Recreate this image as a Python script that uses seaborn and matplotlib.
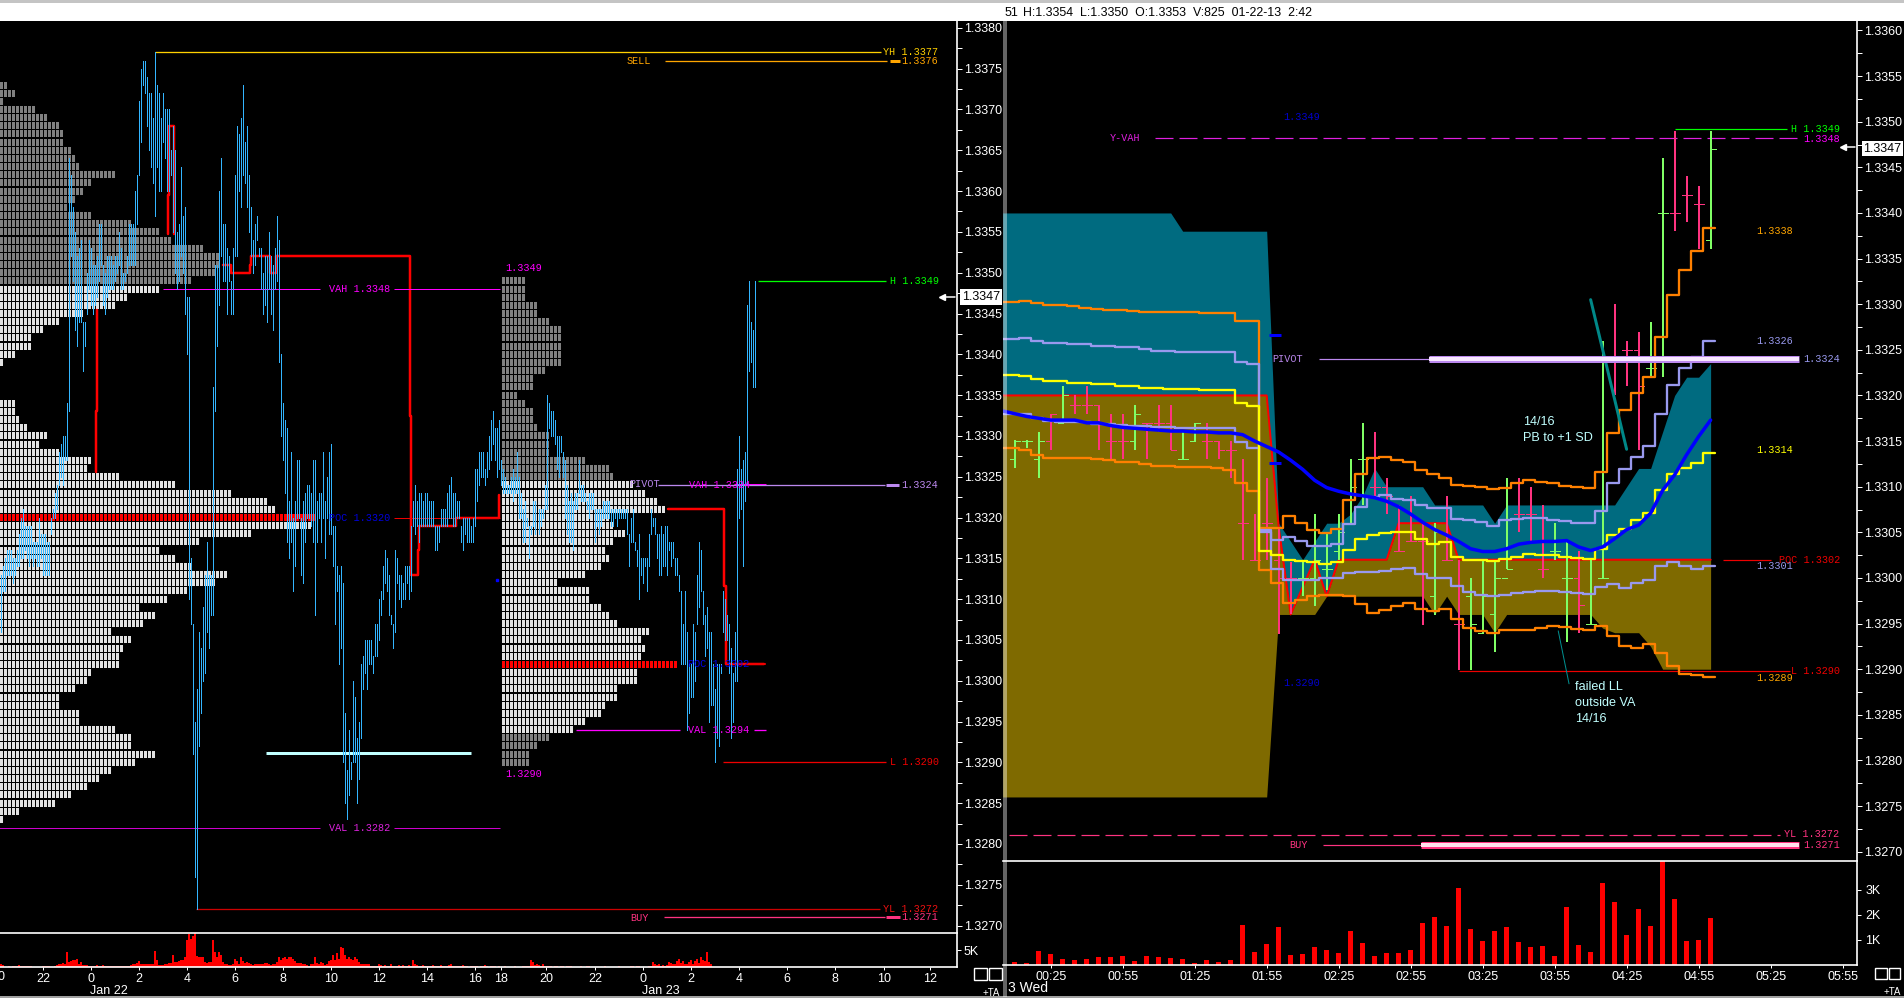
import numpy as np
import matplotlib
matplotlib.use("Agg")
import matplotlib.pyplot as plt
from matplotlib.patches import Rectangle
import seaborn as sns

W, H = 1904, 998

# left chart: 5 minute bars, prices as pips above 1.3
left_high = [3313,3314,3315,3316,3316,3316,3315,3315,3316,3318,3320,3321,3319,3319,3319,3319,3317,3317,3317,3320,3318,3318,3318,3317,3317,3320,3321,3323,3324,3328,3329,3330,3330,3334,
 3364,3362,3358,3355,3352,3353,3354,3344,3344,3350,3354,3353,3351,3351,3352,3356,3356,3351,3350,3352,3352,3352,3351,3352,3352,3355,3353,3350,3350,3352,3356,3356,3356,3360,3362,
 3371,3375,3376,3376,3374,3372,3372,3369,3377,3373,3372,3369,3372,3370,3370,3370,3365,3368,3365,3355,3356,3363,3357,3358,3347,3347,3315,3307,3295,3299,3306,3304,3309,3313,3317,3313,3313,3336,
 3351,3351,3360,3364,3356,3356,3353,3352,3349,3353,3362,3368,3367,3369,3373,3366,3368,3362,3358,3354,3356,3357,3353,3353,3350,3352,3352,3355,3352,3351,3353,3357,3354,3340,3334,3332,3331,3322,3328,3320,3322,3327,3327,3320,3322,3323,3324,3324,3323,3327,3327,3322,3323,3323,3328,3322,3325,3328,3329,3319,3319,3314,3313,3314,3312,
 3296,3289,3294,3290,3300,3298,3293,3295,3302,3303,3305,3305,3305,3305,3303,3307,3307,3310,3311,3314,3316,3315,3313,3308,3307,3316,3315,3313,3313,3312,3314,3314,3314,3319,
 3322,3324,3322,3323,3323,3322,3323,3323,3322,3322,3322,3319,3319,3319,3321,3321,3321,3323,3324,3325,3323,3323,3322,3322,3319,3320,3320,3320,3320,3319,3320,3326,3326,3328,3328,3328,3326,3328,3330,3332,3333,3331,3331,3332,
 3327,3326,3325,3324,3324,3325,3326,3325,3328,3325,3323,3321,3322,3320,3319,3319,3322,3322,3320,3321,3321,3321,3324,3335,3334,3333,3333,3332,3330,3330,3330,3328,3327,3324,3322,3323,3322,3323,3323,3327,3324,3324,3323,3322,3323,3323,3323,3321,3321,3321,3321,3322,3322,3322,3322,3321,3321,3321,3321,3321,3321,3321,3321,3321,
 3318,3320,3321,3317,3316,3318,3315,3315,3315,3315,3318,3321,3320,3320,3318,3318,3319,3318,3319,3319,3317,3317,3317,3315,3315,3313,3311,3307,3311,3306,3302,3302,3307,3306,3313,3317,3316,3311,3308,3309,3306,3306,3302,3299,3302,3302,3302,3311,3310,3308,3307,3304,3301,3306,3326,3330,3326,3327,3328,3346,3349,3344,3343,3349]
left_low = [3306,3311,3311,3313,3313,3313,3312,3313,3314,3314,3315,3315,3316,3315,3314,3315,3314,3315,3314,3314,3315,3313,3313,3313,3313,3318,3320,3320,3321,3324,3325,3324,3327,3327,
 3333,3352,3349,3343,3341,3344,3344,3338,3341,3345,3348,3346,3345,3346,3347,3349,3351,3346,3345,3347,3348,3348,3348,3349,3350,3351,3348,3348,3349,3350,3351,3351,3351,3351,3356,
 3362,3366,3373,3372,3368,3365,3363,3361,3357,3363,3360,3360,3366,3364,3360,3360,3362,3355,3350,3348,3349,3352,3350,3345,3340,3310,3307,3291,3276,3272,3292,3296,3300,3301,3306,3304,3308,3308,
 3333,3341,3346,3352,3349,3349,3345,3349,3345,3345,3352,3352,3360,3358,3362,3361,3358,3355,3352,3350,3351,3354,3352,3348,3345,3346,3344,3348,3345,3343,3348,3349,3339,3330,3327,3323,3317,3315,3317,3311,3314,3320,3320,3313,3312,3317,3320,3320,3319,3317,3308,3317,3320,3317,3320,3315,3320,3318,3318,3314,3307,3311,3302,3304,3290,
 3285,3283,3286,3288,3290,3290,3285,3288,3293,3299,3301,3299,3302,3302,3301,3303,3303,3305,3308,3310,3312,3311,3308,3307,3304,3306,3312,3310,3309,3310,3310,3312,3310,3311,
 3319,3318,3319,3317,3319,3319,3319,3319,3319,3319,3319,3316,3316,3317,3319,3319,3319,3319,3320,3320,3319,3319,3320,3320,3317,3316,3318,3317,3317,3317,3317,3319,3322,3324,3325,3325,3324,3325,3326,3327,3329,3327,3325,3326,
 3324,3323,3323,3323,3323,3323,3322,3323,3323,3320,3320,3317,3317,3319,3315,3318,3319,3318,3320,3318,3319,3320,3321,3321,3331,3330,3330,3329,3326,3325,3328,3325,3320,3318,3317,3317,3316,3321,3321,3323,3322,3322,3322,3321,3320,3321,3321,3317,3319,3318,3319,3320,3320,3320,3320,3319,3319,3320,3319,3320,3320,3320,3320,3318,
 3314,3317,3317,3316,3314,3310,3313,3312,3314,3311,3314,3318,3319,3318,3315,3313,3313,3314,3314,3313,3316,3314,3315,3313,3313,3311,3302,3302,3302,3294,3296,3298,3298,3300,3307,3309,3311,3307,3303,3304,3295,3297,3297,3290,3293,3292,3301,3306,3305,3305,3301,3293,3295,3300,3300,3320,3321,3314,3322,3324,3338,3339,3336,3336]
left_vol = [8,5,0,1,2,1,3,3,2,6,3,3,3,4,3,3,1,1,1,1,1,2,2,2,2,1,1,3,5,8,10,12,10,45,15,18,20,22,25,10,15,5,6,5,4,3,2,3,5,3,3,5,2,2,2,2,2,2,2,2,2,2,2,3,4,5,8,10,12,18,8,8,8,8,8,8,10,48,22,5,5,6,8,10,12,12,35,15,15,18,22,22,28,80,98,82,90,99,32,30,30,30,15,12,15,15,80,45,30,45,35,15,10,8,5,6,8,25,18,10,28,18,12,15,12,8,5,8,8,10,10,10,12,12,8,5,8,10,15,28,22,26,28,25,28,30,25,18,12,12,12,8,8,5,3,8,10,30,12,10,15,12,5,10,18,22,35,20,40,25,60,55,35,25,28,25,22,28,25,15,10,8,8,8,8,3,3,3,3,10,5,3,6,4,3,8,
 3,4,2,5,3,6,2,3,5,2,22,8,5,4,3,6,3,2,4,3,5,2,2,3,6,4,2,3,5,8,3,2,4,3,2,5,3,2,1,3,2,4,2,1,3,2,5,3,1,4,2,3,1,2,1,
 1,2,1,0,1,1,2,1,1,0,2,4,3,2,20,14,6,8,5,3,8,4,3,2,2,1,3,2,1,2,3,1,2,2,3,1,1,0,1,2,1,0,2,3,1,1,0,1,1,0,0,2,1,0,1,0,1,1,2,0,1,1,0,1,2,2,1,2,2,1,1,1,1,2,3,15,10,6,8,4,5,3,6,15,12,8,10,18,25,12,18,10,8,14,20,10,18,24,12,30,20,18,45,15,10]

# market profile counts per 0.0001 row, top row first
profile1_top = 3373
profile1_counts = [2,4,1,9,12,15,16,16,18,19,20,29,23,21,19,17,23,33,40,43,51,55,55,54,48,
 40,32,29,21,15,11,8,8,4,1,0,0,0,0,4,4,5,7,12,10,15,23,22,30,44,58,67,69,79,
 78,63,50,40,44,48,57,54,47,42,35,39,36,28,33,31,30,30,23,22,19,15,15,20,20,29,33,33,39,34,28,25,22,18,14,5,1]
profile1_poc = 3320
profile1_gray = (3349, 3373)
profile2_top = 3349
profile2_counts = [6,6,6,9,9,12,15,15,15,15,15,11,8,8,4,6,8,8,9,12,12,12,21,27,28,
 33,36,39,41,27,28,31,28,26,27,25,21,14,22,22,25,27,29,37,35,36,35,44,34,34,29,29,26,25,21,18,12,9,7,7]
profile2_poc = 3302
profile2_val = 3294
profile2_vah = 3325

# developing POC of the left chart, bar number and pips
poc_a_x = [47.5, 47.5, 48, 48]
poc_a_y = [3325.6, 3333, 3333, 3345.4]
poc_b_x = [83.3, 83.3, 84.2, 84.2, 86.7, 86.7]
poc_b_y = [3354.8, 3359.5, 3359.5, 3368, 3368, 3354.8]
poc_c_x = [110.8, 115, 115, 124.3, 124.3, 125, 125, 134.7, 134.7, 137.5, 137.5, 204.3, 204.3, 205, 205, 208.3, 208.3, 209, 209, 227.5, 227.5, 249, 249]
poc_c_y = [3351, 3351, 3350, 3350, 3351, 3351, 3352, 3352, 3350, 3350, 3352, 3352, 3332.5, 3332.5, 3313, 3313, 3316, 3316, 3319, 3319, 3320, 3320, 3322.8]
poc_d_x = [333.4, 361.7, 361.7, 362.4, 362.4, 381.6]
poc_d_y = [3321, 3321, 3311.6, 3311.6, 3302, 3302]

left_ticks = [21,45,69,93,117,141,165,189,213,237,250,272.5,297,321,345,369,393,417,441.5,464.5]
left_tick_labels = ["22","0","2","4","6","8","10","12","14","16","18","20","22","0","2","4","6","8","10","12"]

# right chart: first entry of the fills and step lines sits one bar before 00:10
fill_top = [3340]*15 + [3338]*8 + [3306,3304,3302,3304,3306,3306,3307,3309,3312,3310,3310,3310,3310,3308,3308,3308,3308,3308,3306,3308,3308,3308,3308,3308,3308,3308,3308,3308,3308,3310,3312,3312,3316,3320,3322,3322,3323.5]
fill_mid = [3320]*23 + [3305.6,3296,3299,3302,3298,3302,3302,3302,3302,3302,3306,3306,3306,3306,3306,3302] + [3302]*21
fill_bot = [3276]*23 + [3296]*4 + [3298]*9 + [3296,3298,3296,3296,3296,3294] + [3296]*8 + [3294.5,3294,3294,3294,3292.5,3290,3290,3290,3290,3290]

orange_up = [3330.2,3330.2,3330.3,3330.1,3329.9,3329.9,3329.8,3329.6,3329.5,3329.4,3329.4,3329.3,3329.2,3329.2,3329.1,3329.1,3329.1,3329,3329,3329,3328.2,3328.2,3305.5,3305.5,3306.8,3306,3305.3,3304.9,3305.4,3308.5,3311.4,3313.1,3313.3,3312.9,3312.7,3311.8,3311.4,3311,3310.2,3310.1,3310,3309.7,3309.9,3310.4,3310.7,3310.5,3310.4,3310.1,3310,3309.9,3311.6,3315.9,3318.4,3320.3,3322,3326.4,3331,3333.7,3335.8,3338.4]
lav_up = [3326.2,3326.2,3326.3,3326,3325.8,3325.8,3325.6,3325.6,3325.4,3325.4,3325.3,3325.3,3325.1,3324.9,3324.9,3324.8,3324.8,3324.8,3324.8,3324.8,3323.7,3323.4,3305,3304.2,3304.5,3304,3303.5,3303.5,3303.7,3305.9,3307.8,3308.9,3309.1,3308.7,3308.5,3308,3307.7,3307.7,3306.5,3306.3,3306.1,3305.7,3306.3,3306.5,3306.6,3306.6,3306.4,3306.2,3306,3306,3307.3,3310.4,3311.9,3313.3,3314.5,3318,3321.2,3323,3324.2,3326]
yellow_up = [3322.2,3322.2,3322.1,3321.8,3321.6,3321.6,3321.4,3321.4,3321.3,3321.3,3321,3321,3320.8,3320.8,3320.7,3320.7,3320.7,3320.6,3320.6,3320.6,3319.2,3318.8,3303,3302.5,3302,3301.9,3301.7,3301.5,3301.8,3303.1,3304.3,3304.7,3304.9,3305,3305,3304.3,3303.7,3303.9,3302.3,3302,3302,3301.9,3302.1,3302.3,3302.6,3302.5,3302.5,3302.3,3302.2,3302.1,3303.2,3304.7,3305.4,3306.4,3307.1,3309.6,3311.4,3312,3312.6,3313.7]
lav_low = [3318,3318,3318,3317.5,3317.2,3317.1,3317.1,3317.1,3316.9,3316.9,3316.8,3316.7,3316.6,3316.5,3316.5,3316.4,3316.4,3316.4,3316.4,3316.4,3314.9,3314.2,3305.3,3301,3299.8,3299.8,3299.8,3300,3300,3300.5,3300.6,3300.6,3300.8,3301,3301.1,3300.4,3300,3300,3299.1,3298.5,3298.1,3298,3298.1,3298.4,3298.5,3298.6,3298.6,3298.5,3298.4,3298.2,3299,3299.3,3298.9,3299.4,3299.8,3301.3,3301.7,3301.3,3301,3301.3]
orange_low = [3314.2,3314.2,3314,3313.5,3313.2,3313.2,3313.2,3313.2,3313,3312.9,3312.7,3312.7,3312.5,3312.3,3312.3,3312.2,3312.2,3312.2,3312,3311.8,3310.4,3309.5,3300.9,3299.5,3297.3,3297.6,3298,3298.1,3298.1,3298,3297.1,3296.2,3296.5,3296.9,3297.3,3296.6,3296.4,3296.6,3295.5,3294.5,3294.2,3294,3294.3,3294.3,3294.3,3294.5,3294.7,3294.6,3294.4,3294.3,3294.7,3293.6,3292.5,3292.3,3292.8,3291.8,3290.4,3289.5,3289.4,3289.1]
vwap = [3318.3,3318,3317.7,3317.5,3317.3,3317.3,3317.3,3317,3317,3316.7,3316.5,3316.4,3316.3,3316.2,3316.1,3316.1,3316,3316,3315.9,3315.9,3315.7,3315,3314.4,3313.8,3312.9,3311.9,3310.7,3309.9,3309.5,3309.2,3309,3308.8,3308.4,3307.8,3307,3306.1,3305.3,3304.7,3304,3303.2,3302.9,3302.9,3303.2,3303.7,3303.9,3304,3304,3304.1,3303.4,3303,3303.4,3304.3,3305.3,3305.8,3307.1,3309.6,3311.3,3313.5,3315.5,3317.3]

# right chart price bars from 00:10 on, 5 minutes each
bar_up = [1,1,1,0,1,0,0,0,0,0,1,0,0,0,1,1,0,0,0,0,0,0,0,0,1,1,1,1,1,1,0,0,0,0,0,1,0,0,1,1,1,1,0,0,0,1,1,0,1,1,0,0,0,1,1,0,0,0,1]
bar_high = [3315.1,3315.1,3316,3318,3321,3320,3321,3319,3318,3318,3319,3317,3319,3319,3316,3317,3317,3315,3315,3313,3307,3311,3305.5,3301.8,3301.8,3307,3304.9,3307,3313,3317,3316,3311,3308,3309,3306,3306,3309,3302,3300,3302,3302,3311,3311,3310,3308,3306,3304,3303,3302,3326,3330,3326,3327,3328,3346,3349,3344,3343,3349]
bar_low = [3312,3314.2,3311,3314,3317,3318,3318,3314,3313,3313,3314,3313,3316,3314,3313,3315,3313,3313,3311,3302,3302,3302,3293.9,3296,3298,3296.9,3298.7,3302,3306,3308,3309,3307,3303,3304,3294.8,3295.9,3302,3289.9,3289.9,3293.9,3291.9,3301,3305,3304,3300,3302,3293,3294,3295,3300,3320,3321,3314,3322,3322,3338,3339,3336,3336]
bar_open = [3313,3315,3313,3315,3317,3319,3319,3319,3315,3315,3315,3317,3317,3317,3313,3315,3315,3315,3314,3306,3302,3306,3302,3300,3300,3300,3301,3303,3306,3313,3310,3310,3303,3304,3304,3298,3302,3295,3298,3294,3296,3300,3307,3307,3301,3303,3300,3300,3295,3300,3324,3325,3325,3323,3340,3340,3342,3341,3337]
bar_close = [3315,3315,3315,3318,3320,3319,3319,3317,3315,3315,3318,3317,3317,3314,3313,3317,3315,3314,3314,3306,3302,3306,3300,3300,3300,3302,3301,3305,3310,3313,3310,3309,3303,3304,3304,3305,3302,3295,3295,3298,3300,3301,3307,3307,3301,3303,3300,3297,3295,3300,3324,3325,3321,3323,3340,3340,3342,3341,3347]

right_vol = [0.1,0.08,0.56,0.44,0.24,0.2,0.24,0.32,0.32,0.36,0.16,0.36,0.32,0.28,0.24,0.08,0.2,0.12,0.2,1.6,0.52,0.84,1.52,0.4,0.44,0.72,0.6,0.48,1.36,0.88,0.36,0.48,0.48,0.6,1.68,1.92,1.56,3.08,1.44,0.96,1.36,1.52,0.92,0.72,0.76,0.36,2.32,0.8,0.52,3.28,2.52,1.2,2.24,1.56,4.16,2.64,0.96,1.0,1.88]
right_tick_labels = ["00:25","00:55","01:25","01:55","02:25","02:55","03:25","03:55","04:25","04:55","05:25","05:55"]

TEAL = "#006B80"
OLIVE = "#7F6A00"
ORANGE = "#FF8000"
LAV = "#9999EE"
PURPLE = "#BB88EE"
PINK = "#FF3380"
GREEN = "#80FF66"
CYAN = "#C0FFFF"
BLUE_BAR = "#33B5FF"
MAG = "#FF00FF"
PX = 0.72  # one pixel in points at dpi 100


def pr(pips):
    return 1 + np.asarray(pips, dtype=float) / 10000


sns.set_theme(style="dark", rc={"axes.grid": False})
plt.rcParams["font.family"] = ["Liberation Sans", "DejaVu Sans"]

fig = plt.figure(figsize=(W / 100, H / 100), dpi=100, facecolor="white")


def box(x0, y0, x1, y1):
    return [x0 / W, 1 - y1 / H, (x1 - x0) / W, (y1 - y0) / H]


def fig_rect(x0, y0, x1, y1, **kw):
    fig.add_artist(Rectangle((x0 / W, 1 - y1 / H), (x1 - x0) / W, (y1 - y0) / H, transform=fig.transFigure, **kw))


def fig_text(x, y, s, **kw):
    kw.setdefault("color", "white")
    kw.setdefault("va", "center")
    kw.setdefault("fontsize", 9)
    fig.text(x / W, 1 - y / H, s, **kw)


def mono(ax, x, pips, s, color, **kw):
    ax.text(x, pr(pips), s, color=color, family=["Liberation Mono", "DejaVu Sans Mono"], fontsize=7.3, va="center", ha="left", clip_on=False, zorder=9, **kw)


def hline(ax, pips, x0, x1, color, px=1, **kw):
    ax.plot([x0, x1], [pr(pips), pr(pips)], color=color, lw=px * PX, solid_capstyle="butt", **kw)


def line(ax, xs, pips, color, px=2, **kw):
    sns.lineplot(x=xs, y=pr(pips), color=color, lw=px * PX, estimator=None, sort=False, errorbar=None, ax=ax, **kw)


def style_axes(ax):
    ax.set_facecolor("black")
    for s in ax.spines.values():
        s.set_visible(False)
    ax.grid(False)
    ax.set_xlabel("")
    ax.set_ylabel("")


# background, kept behind the axes
fig_rect(0, 0, W, 3, facecolor="#C4C4C4", edgecolor="none", zorder=-2)
fig_rect(0, 21, W, 996, facecolor="black", edgecolor="none", zorder=-2)
fig_rect(0, 996, W, H, facecolor="#A0A0A0", edgecolor="none", zorder=-2)

# ------------------------------
# LEFT PRICE CHART
# ------------------------------
axl = fig.add_axes(box(0, 21, 957, 932.5))
style_axes(axl)


def profile(ax, top, counts, start, poc, gray_test):
    lefts, rows, cols = [], [], []
    for r, n in enumerate(counts):
        pip = top - r
        for j in range(n):
            lefts.append(start + j * 2)
            rows.append(pip)
            cols.append("#FF0000" if pip == poc else ("#808080" if gray_test(pip) else "#E2E2E2"))
    ax.barh(pr(rows), [1.5] * len(rows), left=lefts, height=0.000086, color=cols, linewidth=0, antialiased=False)


profile(axl, profile1_top, profile1_counts, -0.5, profile1_poc, lambda p: p >= profile1_gray[0])
profile(axl, profile2_top, profile2_counts, 250.4, profile2_poc, lambda p: p >= profile2_vah or p <= profile2_val - 1)

for xs, ys in [(poc_a_x, poc_a_y), (poc_b_x, poc_b_y), (poc_c_x, poc_c_y), (poc_d_x, poc_d_y)]:
    line(axl, xs, ys, "#FF0000", px=2.5)

n_left = min(len(left_high), len(left_low))
left_x = np.arange(n_left)
axl.vlines(left_x, pr(left_low[:n_left]), pr(left_high[:n_left]), color=BLUE_BAR, lw=1 * PX, antialiased=False, zorder=4)

hline(axl, 3377.1, 77, 440, "#FFD000", 1.3)
hline(axl, 3376, 332, 443, "#FFA500", 1.3)
hline(axl, 3376, 444.5, 449.5, "#FFA500", 3)
hline(axl, 3348, 81, 159.5, MAG)
hline(axl, 3348, 196.5, 249.5, MAG)
hline(axl, 3349, 378.5, 442.5, "#00FF00", 1.3)
hline(axl, 3290, 361, 442.5, "#EE0000", 1.3)
hline(axl, 3324, 328.5, 442, PURPLE, 1.3)
hline(axl, 3324.1, 367, 382.5, MAG)
hline(axl, 3324, 442.5, 449, PURPLE, 3)
hline(axl, 3320, 196.5, 249.5, "#EE0000")
hline(axl, 3302, 373, 382.5, "#EE0000", 1.5)
hline(axl, 3282, -1, 159.5, "#CC00CC")
hline(axl, 3282, 196.5, 249.5, "#CC00CC")
hline(axl, 3294, 287.5, 339.5, MAG, 1.3)
hline(axl, 3294, 376.5, 382.5, MAG, 1.3)
hline(axl, 3272, 97.5, 439.5, "#CC0000", 1.3)
hline(axl, 3271, 331.5, 442, PINK, 1.3)
hline(axl, 3271, 442.5, 449.5, PINK, 3)
hline(axl, 3291.2, 132.5, 235, CYAN, 3)
axl.plot([248], [pr(3312.4)], ls="", marker="s", ms=2, color="#0000FF")

mono(axl, 441, 3377.1, "YH 1.3377", "#FFD000")
mono(axl, 313, 3376, "SELL", "#FFA500")
mono(axl, 450, 3376, "1.3376", "#FFA500")
mono(axl, 164, 3348, "VAH 1.3348", MAG)
mono(axl, 252, 3350.6, "1.3349", MAG)
mono(axl, 444.5, 3349, "H 1.3349", "#00FF00")
mono(axl, 314, 3324.1, "PIVOT", PURPLE)
mono(axl, 344, 3324, "VAH 1.3324", MAG)
mono(axl, 450, 3324, "1.3324", PURPLE)
mono(axl, 164, 3320, "POC 1.3320", "#0000DD")
mono(axl, 343.5, 3302, "POC 1.3302", "#0000EE")
mono(axl, 164, 3282, "VAL 1.3282", "#DD22DD")
mono(axl, 343.5, 3294, "VAL 1.3294", MAG)
mono(axl, 444.5, 3290, "L 1.3290", "#EE0000")
mono(axl, 252, 3288.6, "1.3290", MAG)
mono(axl, 441, 3272, "YL 1.3272", "#EE1111")
mono(axl, 314.5, 3270.9, "BUY", PINK)
mono(axl, 450, 3271, "1.3271", PINK)

axl.set_xlim(-0.5, 478)
axl.set_ylim(1.3269144, 1.3380845)
axl.set_xticks([])
axl.yaxis.tick_right()
axl.set_yticks(pr(np.arange(3270, 3381, 5)))
axl.set_yticklabels([f"{v:.4f}" for v in pr(np.arange(3270, 3381, 5))], color="white", fontsize=9)
axl.set_yticks(pr(np.arange(3272.5, 3380, 5)), minor=True)
axl.tick_params(axis="y", which="major", length=3.5, width=PX, color="white", pad=1.5, right=True)
axl.tick_params(axis="y", which="minor", length=3.5, width=PX, color="white", right=True)
axl.set_xlabel("")
axl.set_ylabel("")
axl.spines["right"].set_visible(True)
axl.spines["right"].set_color("white")
axl.spines["right"].set_linewidth(1.2)

# ------------------------------
# LEFT VOLUME
# ------------------------------
axlv = fig.add_axes(box(0, 932.5, 957, 967))
style_axes(axlv)
sns.barplot(x=np.arange(len(left_vol)), y=left_vol, native_scale=True, color="#FF0000", saturation=1, width=1.0, linewidth=0, ax=axlv)
axlv.set_xlim(-0.5, 478)
axlv.set_ylim(0, 101.5)
axlv.set_xticks(left_ticks)
axlv.set_xticklabels(left_tick_labels, color="white", fontsize=9)
axlv.yaxis.tick_right()
axlv.set_yticks([50])
axlv.set_yticklabels(["5K"], color="white", fontsize=9)
axlv.tick_params(axis="x", length=2.5, width=PX, color="white", pad=1.5, bottom=True)
axlv.tick_params(axis="y", length=3, width=PX, color="white", pad=1.5, right=True)
axlv.set_xlabel("")
axlv.set_ylabel("")
for side in ["top", "bottom", "right"]:
    axlv.spines[side].set_visible(True)
    axlv.spines[side].set_color("white")
    axlv.spines[side].set_linewidth(1.2)
fig_text(-2, 977, "20", ha="center")
fig_text(90, 991, "Jan 22")
fig_text(642, 991, "Jan 23")

# ------------------------------
# RIGHT PRICE CHART
# ------------------------------
axr = fig.add_axes(box(1003, 21, 1857, 860.7))
style_axes(axr)
fill_x = np.arange(len(fill_top)) - 1
axr.fill_between(fill_x, pr(fill_mid), pr(fill_top), color=TEAL, linewidth=0)
axr.fill_between(fill_x, pr(fill_bot), pr(fill_mid), color=OLIVE, linewidth=0)
line(axr, fill_x, fill_mid, "#FF0000", px=2)

bars_x = np.arange(len(bar_high))
bar_cols = [GREEN if u else PINK for u in bar_up]
axr.vlines(bars_x, pr(bar_low), pr(bar_high), colors=bar_cols, lw=1.5 * PX, antialiased=False, zorder=3)
axr.hlines(pr(bar_open), bars_x - 0.42, bars_x, colors=bar_cols, lw=1 * PX, antialiased=False, zorder=3)
axr.hlines(pr(bar_close), bars_x, bars_x + 0.42, colors=bar_cols, lw=1 * PX, antialiased=False, zorder=3)


def step_line(values, color):
    xs = np.arange(len(values)) - 1.6
    xs = np.append(xs, xs[-1] + 1)
    ys = np.append(values, values[-1])
    sns.lineplot(x=xs, y=pr(ys), color=color, lw=2.3 * PX, estimator=None, sort=False, errorbar=None, drawstyle="steps-post", ax=axr, zorder=5)


step_line(orange_up, ORANGE)
step_line(orange_low, ORANGE)
step_line(lav_up, LAV)
step_line(lav_low, LAV)
step_line(yellow_up, "#FFFF00")
line(axr, np.arange(len(vwap)) - 1, vwap, "#0000FF", px=3.5, zorder=6)

hline(axr, 3324, 25.4, 34.5, PURPLE, 1.2)
hline(axr, 3324, 34.5, 65.4, PURPLE, 7, zorder=7)
hline(axr, 3324, 34.5, 65.4, "#F8E8FF", 4, zorder=8)
hline(axr, 3270.7, 25.7, 33.9, PINK, 1.2)
hline(axr, 3270.7, 33.9, 65.4, PINK, 7, zorder=7)
hline(axr, 3270.7, 33.9, 65.4, "#FFE0EC", 4, zorder=8)
axr.plot([11.7, 65.4], pr([3348.2, 3348.2]), color="#E020E0", lw=1.2 * PX, dashes=(18 / 1.2, 6 / 1.2))
axr.plot([-0.5, 63.8], pr([3271.8, 3271.8]), color=PINK, lw=1.2 * PX, dashes=(18 / 1.2, 6 / 1.2))
hline(axr, 3349.2, 55, 64.4, "#00FF00", 1.2)
hline(axr, 3289.8, 37, 64.6, "#EE0000", 1.2)
hline(axr, 3302, 59, 63, "#EE0000", 1.2)
hline(axr, 3326.6, 21.2, 22.2, "#0000FF", 3)
hline(axr, 3312.6, 21.2, 22.2, "#0000FF", 3, zorder=7)

# hand drawn notes
axr.plot([45.3, 46.2], pr([3294.2, 3288.4]), color="#009090", lw=1 * PX)
axr.plot([48.0, 51.0], pr([3330.5, 3314.1]), color="#008888", lw=3 * PX, zorder=6)
axr.text(42.4, pr(3317.1), "14/16", color=CYAN, fontsize=9.1, va="center")
axr.text(42.4, pr(3315.3), "PB to +1 SD", color=CYAN, fontsize=9.1, va="center")
axr.text(46.7, pr(3288.05), "failed LL", color=CYAN, fontsize=9.1, va="center")
axr.text(46.7, pr(3286.3), "outside VA", color=CYAN, fontsize=9.1, va="center")
axr.text(46.7, pr(3284.5), "14/16", color=CYAN, fontsize=9.1, va="center")

mono(axr, 7.9, 3348.2, "Y-VAH", "#E020E0")
mono(axr, 22.4, 3350.5, "1.3349", "#0000CC")
mono(axr, 21.5, 3324, "PIVOT", PURPLE)
mono(axr, 64.7, 3349.2, "H 1.3349", "#00FF00")
mono(axr, 65.7, 3348.1, "1.3348", MAG)
mono(axr, 61.8, 3338, "1.3338", "#FFA500")
mono(axr, 61.8, 3326, "1.3326", LAV)
mono(axr, 65.7, 3324, "1.3324", LAV)
mono(axr, 61.8, 3314, "1.3314", "#FFFF00")
mono(axr, 63.7, 3302, "POC 1.3302", "#EE0000")
mono(axr, 61.8, 3301.3, "1.3301", LAV)
mono(axr, 64.7, 3289.8, "L 1.3290", "#EE0000")
mono(axr, 61.8, 3289, "1.3289", "#FFA500")
mono(axr, 22.4, 3288.5, "1.3290", "#0000CC")
mono(axr, 22.9, 3270.7, "BUY", PINK)
mono(axr, 64.1, 3271.9, "YL 1.3272", PINK)
mono(axr, 65.7, 3270.7, "1.3271", PINK)

axr.set_xlim(-0.975, 70.2)
axr.set_ylim(1.3269014, 1.3361036)
axr.set_xticks([])
axr.yaxis.tick_right()
axr.set_yticks(pr(np.arange(3270, 3361, 5)))
axr.set_yticklabels([f"{v:.4f}" for v in pr(np.arange(3270, 3361, 5))], color="white", fontsize=9)
axr.set_yticks(pr(np.arange(3272.5, 3360, 5)), minor=True)
axr.tick_params(axis="y", which="major", length=3.5, width=PX, color="white", pad=1.5, right=True)
axr.tick_params(axis="y", which="minor", length=3.5, width=PX, color="white", right=True)
axr.set_xlabel("")
axr.set_ylabel("")
axr.spines["right"].set_visible(True)
axr.spines["right"].set_color("white")
axr.spines["right"].set_linewidth(1.2)

# ------------------------------
# RIGHT VOLUME
# ------------------------------
axrv = fig.add_axes(box(1003, 860.7, 1857, 965))
style_axes(axrv)
sns.barplot(x=np.arange(len(right_vol)), y=right_vol, native_scale=True, color="#FF0000", saturation=1, width=0.42, linewidth=0, ax=axrv)
axrv.set_xlim(-0.975, 70.2)
axrv.set_ylim(0, 4.17)
axrv.set_xticks(3 + 6 * np.arange(len(right_tick_labels)))
axrv.set_xticklabels(right_tick_labels, color="white", fontsize=9)
axrv.yaxis.tick_right()
axrv.set_yticks([1, 2, 3])
axrv.set_yticklabels(["1K", "2K", "3K"], color="white", fontsize=9)
axrv.tick_params(axis="x", length=2.5, width=PX, color="white", pad=1.5, bottom=True)
axrv.tick_params(axis="y", length=3, width=PX, color="white", pad=3, right=True)
axrv.set_xlabel("")
axrv.set_ylabel("")
for side in ["top", "bottom", "right"]:
    axrv.spines[side].set_visible(True)
    axrv.spines[side].set_color("white")
    axrv.spines[side].set_linewidth(1.2)
fig_text(1008, 988, "3 Wed", fontsize=10)

# last price boxes and window furniture
fig_rect(960, 289, 1002, 305, facecolor="white", edgecolor="none", zorder=5)
fig_text(981, 297, "1.3347", color="black", ha="center", zorder=6)
fig_rect(1862, 141, 1903, 156, facecolor="white", edgecolor="none", zorder=5)
fig_text(1882.5, 148.5, "1.3347", color="black", ha="center", zorder=6)
for ax, xa, xb, pip in [(axl, 470.5, 477, 3347), (axr, 69, 70, 3347.2)]:
    ax.plot([xa, xb], pr([pip, pip]), color="white", lw=1.5 * PX, clip_on=False)
    ax.plot([xa], [pr(pip)], marker="<", ms=4.5, color="white", ls="", clip_on=False)

for x0, x1, y0, y1 in [(974, 987, 968, 980), (989, 1002, 968, 980), (1875, 1887, 968, 979), (1889, 1900, 968, 979)]:
    fig_rect(x0, y0, x1, y1, facecolor="none", edgecolor="white", lw=1)
fig_text(983, 993, "+TA", fontsize=7)
fig_text(1884, 992, "+TA", fontsize=7)

# window border between the two charts
fig_rect(1003, 3, 1007, 997, facecolor="white", edgecolor="none", alpha=0.4, zorder=7)

# header text of the right chart
fig_text(1005, 13, "51", color="black", zorder=8)
fig_text(1023, 13, "H:1.3354  L:1.3350  O:1.3353  V:825  01-22-13  2:42", color="black", fontsize=8.9)

fig.savefig("out.png", dpi=100, facecolor=fig.get_facecolor())
